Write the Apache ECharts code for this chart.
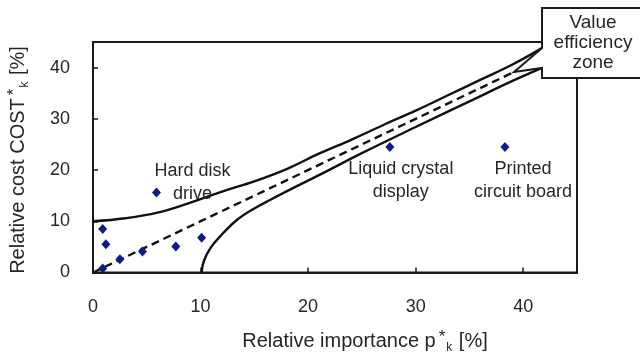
<!DOCTYPE html>
<html>
<head>
<meta charset="utf-8">
<script src="https://cdn.jsdelivr.net/npm/echarts@6/dist/echarts.min.js"></script>
<style>html,body{margin:0;padding:0;background:#fff}#c{width:640px;height:355px}</style>
</head>
<body>
<div id="c"></div>
<script>
// Data
const xTicks = [0, 10, 20, 30, 40];
const yTicks = [0, 10, 20, 30, 40];
const pointsX = [0.9, 1.2, 0.9, 2.5, 4.6, 7.7, 10.1, 5.9, 27.6, 38.3];
const pointsY = [8.5, 5.5, 0.8, 2.6, 4.1, 5.1, 6.8, 15.6, 24.5, 24.5];
const pointLabels = ['', '', '', '', '', '', '', 'Hard disk\ndrive', 'Liquid crystal\ndisplay', 'Printed\ncircuit board'];
const upperX = [0, 3, 6, 9, 12, 15, 18, 21, 24, 27, 30, 33, 36, 39, 41.9];
const upperY = [10, 10.6, 11.7, 13.6, 15.8, 17.8, 20.2, 23.2, 25.9, 28.8, 31.6, 34.6, 37.6, 40.6, 44];
const lowerX = [10.1, 10.3, 10.9, 11.8, 13.4, 15, 16.5, 19, 21.1, 25, 30, 35, 39, 41.8];
const lowerY = [0, 2.2, 4.7, 7, 10.3, 12.5, 14.2, 16.9, 19.1, 23.3, 28.4, 33.4, 37.4, 40];
const diagX = [0, 41.5];
const diagY = [0, 41.5];
const labelOffsets = [[0,0],[0,0],[0,0],[0,0],[0,0],[0,0],[0,0],[36,-10],[11,34],[18,34]];

const zip = (a, b) => a.map((v, i) => [v, b[i]]);
const FONT = 'Liberation Sans, Arial, sans-serif';
const TXT = '#262626';

const chart = echarts.init(document.getElementById('c'), null, {renderer: 'canvas'});
chart.setOption({
  animation: false,
  backgroundColor: '#fff',
  grid: {left: 93, top: 42, right: 63, bottom: 82.5, show: true, borderColor: '#1a1a1a', borderWidth: 2, backgroundColor: 'transparent'},
  xAxis: {
    type: 'value', min: 0, max: 45, interval: 10,
    axisLine: {show: true, lineStyle: {color: '#1a1a1a', width: 2}},
    axisTick: {show: true, inside: true, length: 5, lineStyle: {color: '#1a1a1a', width: 1.5}},
    splitLine: {show: false},
    axisLabel: {color: TXT, fontSize: 18, fontFamily: FONT, margin: 26,
      formatter: v => xTicks.indexOf(v) >= 0 ? String(v) : ''}
  },
  yAxis: {
    type: 'value', min: 0, max: 45, interval: 10,
    axisLine: {show: true, lineStyle: {color: '#1a1a1a', width: 2}},
    axisTick: {show: true, inside: true, length: 5, lineStyle: {color: '#1a1a1a', width: 1.5}},
    splitLine: {show: false},
    axisLabel: {color: TXT, fontSize: 18, fontFamily: FONT, margin: 23,
      formatter: v => yTicks.indexOf(v) >= 0 ? String(v) : ''}
  },
  series: [
    {type: 'line', data: zip(upperX, upperY), smooth: 0.4, showSymbol: false,
      lineStyle: {color: '#111', width: 2.4}, z: 3},
    {type: 'line', data: zip(lowerX, lowerY), smooth: 0.4, showSymbol: false,
      lineStyle: {color: '#111', width: 2.4}, z: 3},
    {type: 'line', data: zip(diagX, diagY), showSymbol: false,
      lineStyle: {color: '#111', width: 2.4, type: [8, 5]}, z: 3},
    {type: 'scatter', symbol: 'diamond', symbolSize: [9, 10],
      itemStyle: {color: '#0f1b86', opacity: 1}, z: 4,
      data: pointsX.map((x, i) => ({
        value: [x, pointsY[i]],
        label: {show: pointLabels[i] !== '', formatter: pointLabels[i], position: 'inside',
          offset: labelOffsets[i], color: TXT, fontSize: 18, fontFamily: FONT,
          lineHeight: 23, align: 'center', verticalAlign: 'middle'}
      }))}
  ],
  graphic: [
    {type: 'polygon', z: 100,
      shape: {points: [[542, 8], [642, 8], [642, 78], [542, 78], [542, 68], [514, 72], [542, 48]]},
      style: {fill: '#fff', stroke: '#1a1a1a', lineWidth: 2}},
    {type: 'text', z: 101, x: 593, y: 43,
      style: {text: 'Value\nefficiency\nzone', fontSize: 19, fontFamily: FONT, fill: TXT,
        align: 'center', verticalAlign: 'middle', lineHeight: 20}},
    {type: 'text', z: 101, x: 365, y: 341,
      style: {text: 'Relative importance p{sup|*}{sub|k} [%]', fontSize: 20, fontFamily: FONT, fill: TXT,
        align: 'center', verticalAlign: 'middle',
        rich: {sup: {fontSize: 17, fontFamily: FONT, fill: TXT, verticalAlign: 'top', padding: [0, 1, 8, 3]},
               sub: {fontSize: 12, fontFamily: FONT, fill: TXT, verticalAlign: 'bottom', padding: [8, 1, 0, 0]}}}},
    {type: 'text', z: 101, x: 18, y: 160, rotation: Math.PI / 2,
      style: {text: 'Relative cost COST{sup|*}{sub|k} [%]', fontSize: 20, fontFamily: FONT, fill: TXT,
        align: 'center', verticalAlign: 'middle',
        rich: {sup: {fontSize: 17, fontFamily: FONT, fill: TXT, verticalAlign: 'top', padding: [0, 1, 8, 3]},
               sub: {fontSize: 12, fontFamily: FONT, fill: TXT, verticalAlign: 'bottom', padding: [8, 1, 0, 0]}}}}
  ]
});
</script>
</body>
</html>
